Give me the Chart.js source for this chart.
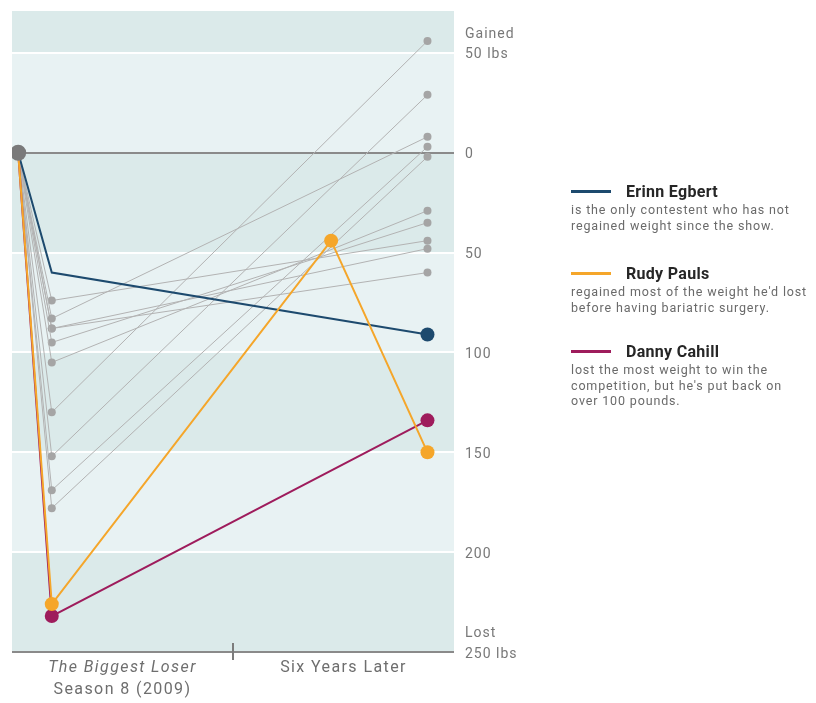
<!DOCTYPE html>
<html>
<head>
<meta charset="utf-8">
<script src="https://cdn.jsdelivr.net/npm/chart.js@4/dist/chart.umd.min.js"></script>
<style>
  html, body { margin: 0; padding: 0; background: #ffffff; }
  #wrap { position: relative; width: 816px; height: 703px; overflow: hidden; }
  #chart { position: absolute; left: 0; top: 0; }
  .legend { position: absolute; left: 571px; font-family: Roboto, "Open Sans", sans-serif; }
  .legend .head { display: flex; align-items: center; height: 18px; }
  .legend .swatch { width: 40px; height: 3px; margin-right: 15px; }
  .legend .name { font-size: 16px; font-weight: 700; color: #262626; letter-spacing: 0.3px; }
  .legend .desc { font-size: 12.5px; line-height: 15.5px; color: #6a6a6a; margin-top: 2px; letter-spacing: 0.85px; white-space: nowrap; }
</style>
</head>
<body>
<div id="wrap">
  <canvas id="chart" width="816" height="703"></canvas>

  <div class="legend" style="top:182px">
    <div class="head"><div class="swatch" style="background:#1d4a6e"></div><div class="name">Erinn Egbert</div></div>
    <div class="desc">is the only contestent who has not<br>regained weight since the show.</div>
  </div>
  <div class="legend" style="top:264px">
    <div class="head"><div class="swatch" style="background:#f5a62a"></div><div class="name">Rudy Pauls</div></div>
    <div class="desc">regained most of the weight he'd lost<br>before having bariatric surgery.</div>
  </div>
  <div class="legend" style="top:342px">
    <div class="head"><div class="swatch" style="background:#9e1c5c"></div><div class="name">Danny Cahill</div></div>
    <div class="desc">lost the most weight to win the<br>competition, but he's put back on<br>over 100 pounds.</div>
  </div>
</div>

<script>
// Positions of each stage along a 0–100 timeline track
const stageStart = 1.4;
const stageFinale = 9;
const stageLater = 94;
const rudySurgery = 72.2;

// Weight change in lbs relative to the start (positive = lost)
const othersFinale = [130, 152, 83, 169, 178, 105, 95, 74, 88, 88];
const othersLater  = [-56, -29, -8, -3, 2, 29, 35, 44, 48, 60];

const erinnX = [stageStart, stageFinale, stageLater];
const erinnValues = [0, 60, 91];
const rudyX = [stageStart, stageFinale, rudySurgery, stageLater];
const rudyValues = [0, 226, 44, 150];
const dannyX = [stageStart, stageFinale, stageLater];
const dannyValues = [0, 232, 134];

const yTicks = [-50, 0, 50, 100, 150, 200, 250];
const yMin = -71, yMax = 250;
const periodLabels = [
  { at: 25, lines: ['The Biggest Loser', 'Season 8 (2009)'] },
  { at: 75, lines: ['Six Years Later'] }
];
const periodDivider = 50;

const zip = (xs, ys) => xs.map((x, i) => ({ x, y: ys[i] }));

const greyDatasets = othersFinale.map((f, i) => ({
  data: zip([stageStart, stageFinale, stageLater], [0, f, othersLater[i]]),
  borderColor: '#b3b3b3',
  borderWidth: 1,
  pointRadius: [0, 4, 4],
  pointBackgroundColor: '#a5a5a5',
  pointBorderWidth: 0,
  order: 10
}));

const highlight = (xs, ys, color, radii, order) => ({
  data: zip(xs, ys),
  borderColor: color,
  borderWidth: 2,
  pointRadius: radii,
  pointBackgroundColor: color,
  pointBorderWidth: 0,
  order
});

const datasets = [
  { data: [{ x: stageStart, y: 0 }], showLine: false, pointRadius: 8,
    pointBackgroundColor: '#7a7a7a', pointBorderWidth: 0, order: 0 },
  highlight(erinnX, erinnValues, '#1d4a6e', [0, 0, 7], 3),
  highlight(rudyX, rudyValues, '#f5a62a', [0, 7, 7, 7], 1),
  highlight(dannyX, dannyValues, '#9e1c5c', [0, 7, 7], 2),
  ...greyDatasets
];

// Alternating horizontal bands behind the plot
const bandPlugin = {
  id: 'bands',
  beforeDraw(chart) {
    const { ctx, chartArea: a, scales: { y } } = chart;
    ctx.letterSpacing = '1px';
    ctx.save();
    ctx.beginPath();
    ctx.rect(a.left, a.top, a.right - a.left, a.bottom - a.top);
    ctx.clip();
    for (let v = -100; v < yMax; v += 50) {
      const top = y.getPixelForValue(v);
      const bot = y.getPixelForValue(v + 50);
      ctx.fillStyle = ((v / 50) % 2 === 0) ? '#dbeaea' : '#e8f2f3';
      ctx.fillRect(a.left, top, a.right - a.left, bot - top);
    }
    ctx.restore();
  }
};

// Period labels and divider under the timeline
const periodPlugin = {
  id: 'periods',
  afterDraw(chart) {
    const { ctx, chartArea: a, scales: { x } } = chart;
    ctx.save();
    const dx = x.getPixelForValue(periodDivider);
    ctx.strokeStyle = '#7c7c7c';
    ctx.lineWidth = 2;
    ctx.beginPath();
    ctx.moveTo(dx, a.bottom - 9);
    ctx.lineTo(dx, a.bottom + 8);
    ctx.stroke();
    ctx.fillStyle = '#6e6e6e';
    ctx.textAlign = 'center';
    ctx.textBaseline = 'middle';
    ctx.letterSpacing = '1.4px';
    periodLabels.forEach(p => {
      const px = x.getPixelForValue(p.at);
      p.lines.forEach((t, i) => {
        const italic = p.lines.length > 1 && i === 0;
        ctx.font = (italic ? 'italic ' : '') + '16px Roboto, "Open Sans", sans-serif';
        ctx.fillText(t, px, a.bottom + 16 + i * 22);
      });
    });
    ctx.restore();
  }
};

new Chart(document.getElementById('chart'), {
  type: 'line',
  data: { datasets },
  plugins: [bandPlugin, periodPlugin],
  options: {
    responsive: false,
    animation: false,
    layout: { padding: { left: 12, top: 11, right: 292, bottom: 0 } },
    plugins: { legend: { display: false }, tooltip: { enabled: false } },
    elements: { line: { tension: 0 } },
    scales: {
      x: {
        type: 'linear',
        min: 0,
        max: 100,
        ticks: { display: false },
        grid: { display: false },
        border: { display: false },
        afterFit: s => { s.height = 51; }
      },
      y: {
        type: 'linear',
        position: 'right',
        reverse: true,
        min: yMin,
        max: yMax,
        afterBuildTicks: s => { s.ticks = yTicks.map(v => ({ value: v })); },
        afterFit: s => { s.width = 70; s.paddingTop = 0; s.paddingBottom = 0; },
        border: { display: false },
        grid: {
          drawTicks: false,
          lineWidth: 2,
          color: c => (c.tick && (c.tick.value === 0 || c.tick.value === 250)) ? '#8a8a8a' : '#ffffff'
        },
        ticks: {
          autoSkip: false,
          padding: 11,
          labelOffset: 2,
          color: '#787878',
          font: { family: 'Roboto, "Open Sans", sans-serif', size: 14, lineHeight: 1.45 },
          callback: v => v === -50 ? ['Gained', '50 lbs', ''] : v === 250 ? ['Lost', '250 lbs', ''] : String(v)
        }
      }
    }
  }
});
</script>
</body>
</html>
